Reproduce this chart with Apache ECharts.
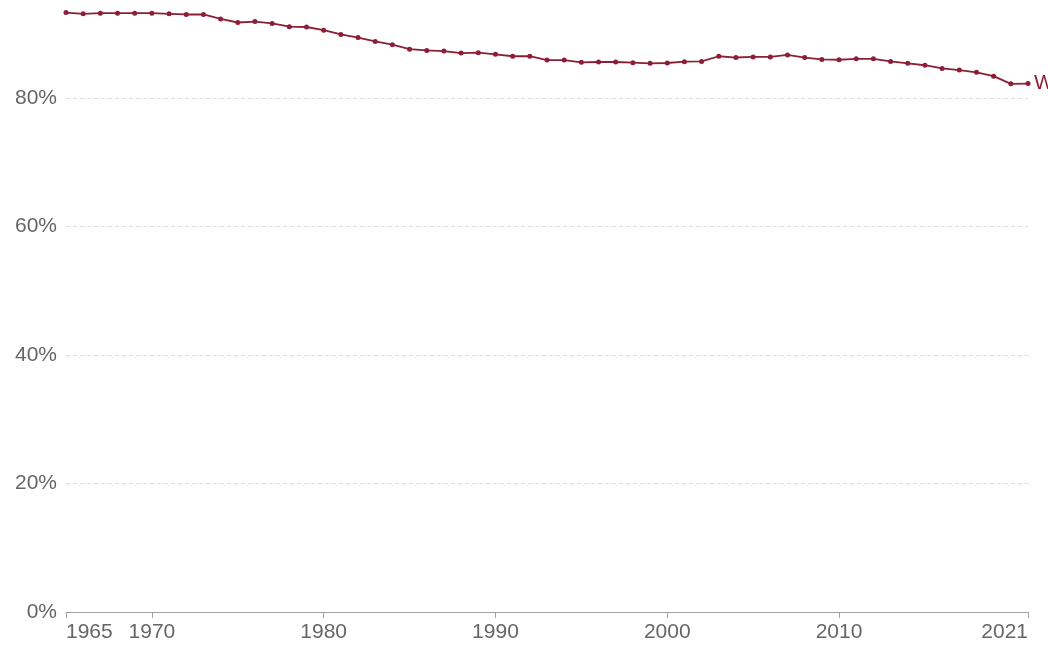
<!DOCTYPE html>
<html>
<head>
<meta charset="utf-8">
<script src="https://cdn.jsdelivr.net/npm/echarts@6/dist/echarts.min.js"></script>
<style>
html,body{margin:0;padding:0;background:#fff;overflow:hidden;}
#chart{width:1048px;height:646px;}
</style>
</head>
<body>
<div id="chart"></div>
<script>
const years = [1965,1966,1967,1968,1969,1970,1971,1972,1973,1974,1975,1976,1977,1978,1979,1980,1981,1982,1983,1984,1985,1986,1987,1988,1989,1990,1991,1992,1993,1994,1995,1996,1997,1998,1999,2000,2001,2002,2003,2004,2005,2006,2007,2008,2009,2010,2011,2012,2013,2014,2015,2016,2017,2018,2019,2020,2021];
const worldValues = [93.3,93.1,93.2,93.2,93.2,93.2,93.1,93.0,93.0,92.3,91.75,91.9,91.6,91.1,91.05,90.55,89.9,89.4,88.8,88.3,87.6,87.4,87.3,87.0,87.05,86.8,86.5,86.5,85.9,85.9,85.55,85.6,85.6,85.5,85.4,85.45,85.65,85.7,86.5,86.3,86.4,86.4,86.7,86.3,86.0,85.95,86.1,86.1,85.7,85.4,85.1,84.6,84.35,84.0,83.4,82.2,82.25];
const xTickLabels = [1965,1970,1980,1990,2000,2010,2021];
const yTicks = [0,20,40,60,80,100];
const seriesName = 'World';

const chart = echarts.init(document.getElementById('chart'), null, {renderer:'canvas'});
const font = '"Liberation Sans", Arial, sans-serif';
chart.setOption({
  animation:false,
  grid:{left:66,right:20,top:-30.5,bottom:34,containLabel:false,outerBoundsMode:'none'},
  xAxis:{
    type:'value',
    min:years[0],
    max:years[years.length-1],
    axisLine:{show:true,lineStyle:{color:'#a0a0a0',width:1}},
    axisTick:{show:true,length:6,lineStyle:{color:'#a0a0a0'},customValues:xTickLabels},
    axisLabel:{customValues:xTickLabels,color:'#666',fontSize:21,fontFamily:font,margin:10,
      alignMinLabel:'left',alignMaxLabel:'right',formatter:v=>String(v)},
    splitLine:{show:false}
  },
  yAxis:{
    type:'value',
    min:yTicks[0],
    max:yTicks[yTicks.length-1],
    interval:20,
    axisLine:{show:false},
    axisTick:{show:false},
    axisLabel:{color:'#666',fontSize:21,fontFamily:font,margin:9,formatter:v=>v+'%'},
    splitLine:{show:true,lineStyle:{color:'#dddddd',type:[4,3],width:1}}
  },
  series:[{
    name:seriesName,
    type:'line',
    data:years.map((y,i)=>[y,worldValues[i]]),
    symbol:'circle',
    symbolSize:5,
    showAllSymbol:true,
    lineStyle:{color:'#8c1e35',width:1.8},
    itemStyle:{color:'#8c1e35'},
    endLabel:{show:true,formatter:seriesName,color:'#8c1e35',fontSize:21,fontFamily:font,distance:6}
  }]
});
</script>
</body>
</html>
